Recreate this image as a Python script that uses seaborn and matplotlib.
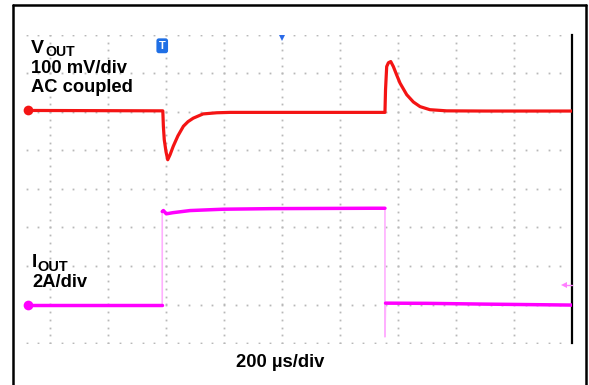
import numpy as np
import pandas as pd
import matplotlib
matplotlib.use("Agg")
import matplotlib.pyplot as plt
import seaborn as sns
from matplotlib.lines import Line2D

sns.set_style("white")
plt.rcParams["font.family"] = ["Liberation Sans", "DejaVu Sans"]

# ---------------- data (read from the scope capture) ----------------
time_v_us = [-876, -411, -409, -406, -400, -394, -386, -375, -359, -340, -324,
             -306, -272, -225, -179, -100, 0, 100, 200, 300, 355, 357, 361, 367,
             375, 384, 395, 407, 430, 453, 476, 510, 568, 700, 850, 1000]
vout_mv = [2, 1, -40, -74, -105, -126, -113, -91, -64, -39, -27,
           -18, -7, -4, -3, -3, -3, -3, -3, -3, -3, 56, 116, 126,
           129, 116, 95, 73, 43, 24, 12, 4, 1, 0.5, 0.5, 0.5]

time_i_us = [-876, -413, -413, -409, -399, -376, -317, -203, -31, 314, 355,
             355, 357, 500, 700, 1000]
iout_a = [0.0, 0.0, 4.85, 4.90, 4.73, 4.79, 4.90, 4.97, 5.00, 5.02, 5.02,
          -1.66, 0.09, 0.08, 0.04, -0.01]

trigger_time_us = -413
trigger_level_a = 1.04

v_scale_mv_div = 100
i_scale_a_div = 2
t_scale_us_div = 200

# ---------------- layout ----------------
W, H = 589, 385
fig = plt.figure(figsize=(W / 100, H / 100), dpi=100)
fig.patch.set_facecolor("white")

L, T, R, B = 25, 35, 572, 343
rect = [L / W, 1 - B / H, (R - L) / W, (B - T) / H]
px_per_div_x = 58.0
XMAX = 5 * t_scale_us_div
XMIN = XMAX - (R - L) / px_per_div_x * t_scale_us_div

ax = fig.add_axes(rect)
ax.set_xlim(XMIN, XMAX)
ax.set_ylim(-4, 4)
ax.set_facecolor("none")
for s in ["left", "top", "bottom"]:
    ax.spines[s].set_visible(False)
ax.spines["right"].set_color("black")
ax.spines["right"].set_linewidth(1.6)
ax.set_xticks([]); ax.set_yticks([])

# dotted graticule
grid_col = "#b8b8b8"
vx = np.arange(-4, 6) * t_scale_us_div
ydots = np.arange(-4, 4.01, 0.2)
gx, gy = np.meshgrid(vx, ydots)
ax.plot(gx.ravel(), gy.ravel(), ls="none", marker="s", ms=1.3, mew=0,
        color=grid_col, zorder=1)
hx = np.arange(-880, XMAX - 1, t_scale_us_div / 5)
hy = np.arange(-4, 5)
gx, gy = np.meshgrid(hx, hy)
ax.plot(gx.ravel(), gy.ravel(), ls="none", marker="s", ms=1.3, mew=0,
        color=grid_col, zorder=1)

# channel axes
V_OFF, I_OFF = 2.02, -3.01
ax_v = fig.add_axes(rect, sharex=ax, label="v")
ax_v.set_ylim((-4 - V_OFF) * v_scale_mv_div, (4 - V_OFF) * v_scale_mv_div)
ax_i = fig.add_axes(rect, sharex=ax, label="i")
ax_i.set_ylim((-4 - I_OFF) * i_scale_a_div, (4 - I_OFF) * i_scale_a_div)
for a in (ax_v, ax_i):
    a.set_facecolor("none")
    a.axis("off")

red = "#f41414"
mag = "#ff00ff"
pale = "#ffb0ff"

dv = pd.DataFrame({"t": time_v_us, "v": vout_mv})
di = pd.DataFrame({"t": time_i_us, "i": iout_a})

sns.lineplot(data=dv, x="t", y="v", ax=ax_v, color=red, lw=2.3,
             sort=False, estimator=None)
ax_v.plot(dv.t.iloc[0], dv.v.iloc[0], marker="o", ms=7, color=red, mew=0,
          clip_on=False)

sns.lineplot(data=di, x="t", y="i", ax=ax_i, color=pale, lw=1.2,
             sort=False, estimator=None)
for sl in (slice(0, 2), slice(2, 11), slice(12, None)):
    seg = di.iloc[sl]
    sns.lineplot(data=seg, x="t", y="i", ax=ax_i, color=mag, lw=2.5,
                 sort=False, estimator=None)
ax_i.plot(di.t.iloc[0], di.i.iloc[0], marker="o", ms=7, color=mag, mew=0,
          clip_on=False)

# trigger level arrow (right) and trigger position marker (top)
ax_i.plot([XMAX - 28, XMAX], [trigger_level_a, trigger_level_a], color="#ff80ff",
          lw=1.0, clip_on=False)
ax_i.plot(XMAX - 28, trigger_level_a, marker="<", ms=5, color="#ff80ff", mew=0,
          clip_on=False)
ax.text(trigger_time_us, 3.72, "T", color="white", fontsize=8, fontweight="bold",
        ha="center", va="center",
        bbox=dict(boxstyle="round,pad=0.22", fc="#1f6fe5", ec="none"))
ax.plot(0, 3.93, marker="v", ms=5, color="#2a6ae8", mew=0, clip_on=False)

for a in (ax, ax_v, ax_i):
    a.set_xlabel(""); a.set_ylabel("")


# ---------------- text ----------------
def ftxt(x, y, s, px, **kw):
    fig.text(x / W, 1 - y / H, s, fontsize=px * 0.72, fontweight="bold",
             va="baseline", ha="left", color="black", **kw)

ftxt(31, 53, "V", 19.5)
ftxt(45, 56, "OUT", 14)
ftxt(31, 73, "100 mV/div", 18.4)
ftxt(31, 92, "AC coupled", 18.4)
ftxt(32, 267, "I", 19)
ftxt(37.5, 271, "OUT", 14.5)
ftxt(32.5, 287, "2A/div", 18.4)
ftxt(236, 367, "200 µs/div", 18.4)

# outer frame
fl = 1.8
fig.add_artist(Line2D([12.5 / W, 12.5 / W], [0, 1 - 5 / H], color="black", lw=fl,
                      transform=fig.transFigure))
fig.add_artist(Line2D([12.5 / W, 585.5 / W], [1 - 5 / H, 1 - 5 / H], color="black",
                      lw=fl, transform=fig.transFigure))
fig.add_artist(Line2D([585.5 / W, 585.5 / W], [0, 1 - 5 / H], color="black", lw=fl,
                      transform=fig.transFigure))

fig.savefig("out.png", dpi=100, facecolor="white")
